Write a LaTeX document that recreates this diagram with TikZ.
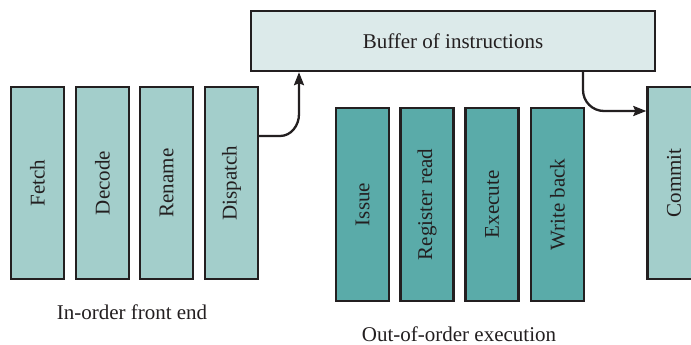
\documentclass[tikz,border=0pt]{standalone}
\usepackage{fontspec}
\setmainfont{Liberation Serif}
\usetikzlibrary{arrows.meta}
\definecolor{edge}{HTML}{231F20}
\definecolor{frontfill}{HTML}{A3CECB}
\definecolor{oofill}{HTML}{5AABA9}
\definecolor{buffill}{HTML}{DCEAEA}
\begin{document}
\begin{tikzpicture}[x=1pt,y=-1pt,
  every node/.style={font=\fontsize{21}{25}\selectfont, text=edge},
  stage/.style={draw=edge, line width=2.4pt, rectangle, inner sep=0pt, minimum width=53pt, minimum height=192pt},
  front/.style={stage, fill=frontfill},
  ooo/.style={stage, fill=oofill, minimum height=193pt},
  buf/.style={draw=edge, line width=2.4pt, rectangle, fill=buffill, inner sep=0pt, minimum width=404pt, minimum height=60pt},
  flow/.style={draw=edge, line width=2.3pt, -{Stealth[length=13pt,width=10pt,inset=2pt]}},
  caption/.style={inner sep=0pt, anchor=base}
]
\clip (0,0) rectangle (691,345);
\fill[white] (0,0) rectangle (691,345);
\node[buf] (buffer) at (453,41) {Buffer of instructions};
\node[front] (fetch) at (37.5,183) {\rotatebox{90}{Fetch}};
\node[front] (decode) at (102.5,183) {\rotatebox{90}{Decode}};
\node[front] (rename) at (166.5,183) {\rotatebox{90}{Rename}};
\node[front] (dispatch) at (231.5,183) {\rotatebox{90}{Dispatch}};
\node[ooo] (issue) at (362.5,204.5) {\rotatebox{90}{Issue}};
\node[ooo] (regread) at (427,204.5) {\rotatebox{90}{Register read}};
\node[ooo] (execute) at (492,204.5) {\rotatebox{90}{Execute}};
\node[ooo] (writeback) at (557.5,204.5) {\rotatebox{90}{Write back}};
\node[front] (commit) at (674,183) {\rotatebox{90}{Commit}};
\node[caption] (frontlabel) at (132,319) {In-order front end};
\node[caption] (ooolabel) at (459,341) {Out-of-order execution};
\coordinate (d1) at (dispatch.east |- 0,136);
\coordinate (b1) at (299,0 |- buffer.south);
\draw[flow] (d1) -- (280,136) to[out=0,in=-90] (299,114) -- (b1);
\coordinate (b2) at (583,0 |- buffer.south);
\coordinate (c1) at (commit.west |- 0,111);
\draw[flow] (b2) -- (583,90) to[out=-90,in=180] (604,111) -- (c1);
\end{tikzpicture}
\end{document}
